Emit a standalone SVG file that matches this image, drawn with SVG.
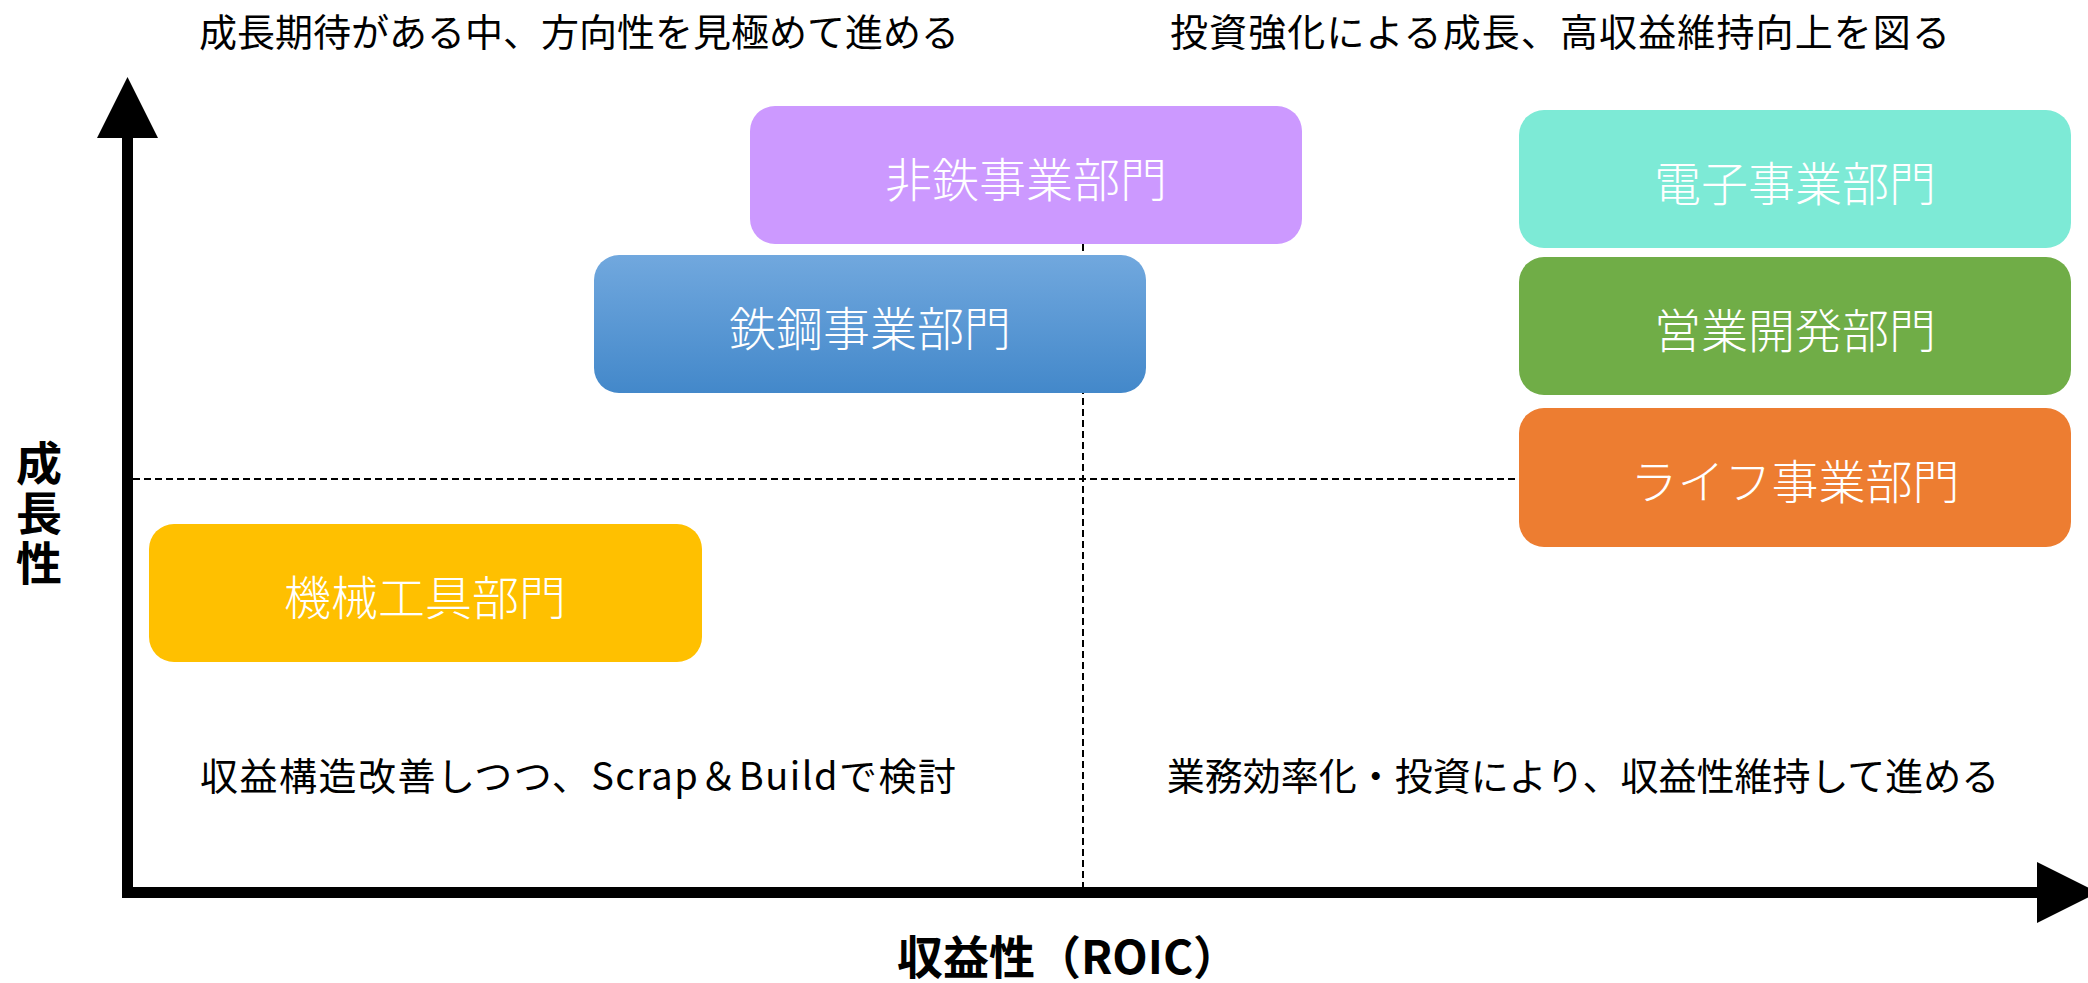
<svg xmlns="http://www.w3.org/2000/svg" width="2088" height="983" viewBox="0 0 2088 983">
<defs>
<linearGradient id="gBlue" x1="0" y1="0" x2="0" y2="1">
<stop offset="0" stop-color="#71A8DE"/>
<stop offset="1" stop-color="#4388CA"/>
</linearGradient>
<style>
.t{font-family:"Noto Sans CJK JP","Noto Sans",sans-serif;fill:#000;font-size:38px}
.lbl{font-family:"Noto Sans CJK JP","Noto Sans",sans-serif;fill:#fff;font-size:47px;font-weight:300;text-anchor:middle;dominant-baseline:central}
.ax{font-family:"Noto Sans CJK JP","Noto Sans",sans-serif;fill:#000;font-size:46px;font-weight:700}
.dash{stroke:#000;stroke-width:2;stroke-dasharray:7 4;fill:none}
.axis{stroke:#000;stroke-width:11;fill:none}
</style>
</defs>
<rect width="2088" height="983" fill="#fff"/>
<g id="connectors">
<line class="dash" x1="133" y1="479" x2="1519" y2="479"/>
<line class="dash" x1="1083" y1="244" x2="1083" y2="887"/>
<line class="axis" x1="127.5" y1="136" x2="127.5" y2="898"/>
<line class="axis" x1="122" y1="892.5" x2="2039" y2="892.5"/>
<polygon points="97,138 158,138 127.5,77" fill="#000"/>
<polygon points="2037,862 2037,923 2098,892.5" fill="#000"/>
</g>
<g id="node-hitetsu">
<rect x="750" y="106" width="552" height="138" rx="25" fill="#CC99FF"/>
<text class="lbl" x="1026" y="176">非鉄事業部門</text>
</g>
<g id="node-tekko">
<rect x="594" y="255" width="552" height="138" rx="25" fill="url(#gBlue)"/>
<text class="lbl" x="870" y="325">鉄鋼事業部門</text>
</g>
<g id="node-denshi">
<rect x="1519" y="110" width="552" height="138" rx="25" fill="#7DEAD6"/>
<text class="lbl" x="1795" y="180">電子事業部門</text>
</g>
<g id="node-eigyo">
<rect x="1519" y="257" width="552" height="138" rx="25" fill="#70AD47"/>
<text class="lbl" x="1795" y="327">営業開発部門</text>
</g>
<g id="node-life">
<rect x="1519" y="408" width="552" height="139" rx="25" fill="#ED7D31"/>
<text class="lbl" x="1795" y="478">ライフ事業部門</text>
</g>
<g id="node-kikai">
<rect x="149" y="524" width="553" height="138" rx="25" fill="#FFC000"/>
<text class="lbl" x="425" y="594">機械工具部門</text>
</g>
<g id="texts">
<text class="t" x="579" y="29" text-anchor="middle" dominant-baseline="central">成長期待がある中、方向性を見極めて進める</text>
<text class="t" x="1560" y="29" text-anchor="middle" dominant-baseline="central" textLength="780" lengthAdjust="spacing">投資強化による成長、高収益維持向上を図る</text>
<text class="t" x="578" y="773" text-anchor="middle" dominant-baseline="central" textLength="756" lengthAdjust="spacing">収益構造改善しつつ、Scrap＆Buildで検討</text>
<text class="t" x="1583" y="773" text-anchor="middle" dominant-baseline="central">業務効率化・投資により、収益性維持して進める</text>
<text class="ax" x="39" y="440" style="writing-mode:vertical-rl;letter-spacing:4px">成長性</text>
<text class="ax" x="1068" y="954" text-anchor="middle" dominant-baseline="central">収益性（ROIC）</text>
</g>
</svg>
